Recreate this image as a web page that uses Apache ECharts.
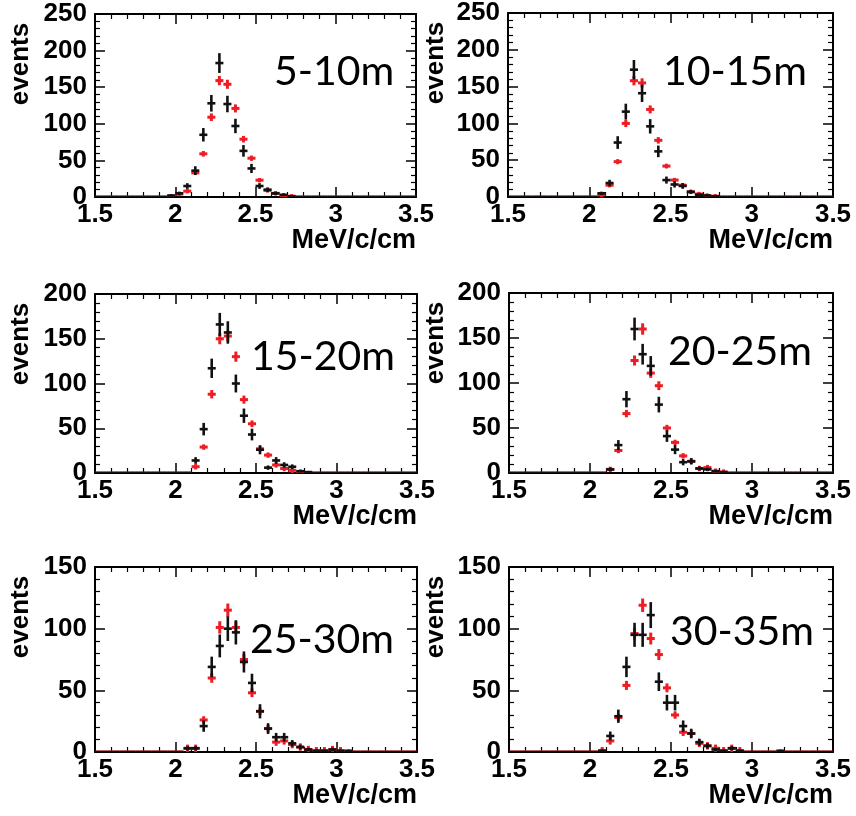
<!DOCTYPE html>
<html>
<head>
<meta charset="utf-8">
<script src="https://cdn.jsdelivr.net/npm/echarts@6/dist/echarts.min.js"></script>
<style>
  html, body { margin: 0; padding: 0; background: #fff; }
  #chart { width: 856px; height: 816px; }
</style>
</head>
<body>
<div id="chart"></div>
<script>
// Bin centres (40 bins of 0.05 from 1.5 to 3.5), MeV/c/cm
const binCenters = [1.525,1.575,1.625,1.675,1.725,1.775,1.825,1.875,1.925,1.975,
                    2.025,2.075,2.125,2.175,2.225,2.275,2.325,2.375,2.425,2.475,
                    2.525,2.575,2.625,2.675,2.725,2.775,2.825,2.875,2.925,2.975,
                    3.025,3.075,3.125,3.175,3.225,3.275,3.325,3.375,3.425,3.475];

const panelLabels = ['5-10m','10-15m','15-20m','20-25m','25-30m','30-35m'];
const yMaxes = [250, 250, 200, 200, 150, 150];
const xTicks = [1.5, 2, 2.5, 3, 3.5];

// black: data, red: simulation (events per bin)
const black_5_10  = [0,0,0,0,0,0,0,0,0,2, 5,15,36,85,128,183,127,97,63,39, 15,10,5,3,1,0,0,0,0,0, 0,0,0,0,0,0,0,0,0,0];
const red_5_10    = [0,0,0,0,0,0,0,0,0,1, 4,8,33,59,109,159,154,121,79,53, 23,9,5,2,1,0,0,0,0,0, 0,0,0,0,0,0,0,0,0,0];
const black_10_15 = [0,0,0,0,0,0,0,0,0,0, 0,5,19,74,116,173,141,96,62,23, 17,15,7,3,2,1,0,0,0,0, 0,0,0,0,0,0,0,0,0,0];
const red_10_15   = [0,0,0,0,0,0,0,0,0,0, 0,3,16,48,100,158,155,119,77,42, 23,16,7,4,2,1,0,0,0,0, 0,0,0,0,0,0,0,0,0,0];
const black_15_20 = [0,0,0,0,0,0,0,0,0,0, 0,0,14,49,117,166,157,100,64,43, 26,6,14,9,7,2,1,0,0,0, 0,0,0,0,0,0,0,0,0,0];
const red_15_20   = [0,0,0,0,0,0,0,0,0,0, 0,0,7,29,88,150,153,130,82,55, 27,20,9,5,3,1,0,0,0,0, 0,0,0,0,0,0,0,0,0,0];
const black_20_25 = [0,0,0,0,0,0,0,0,0,0, 0,0,4,31,82,160,132,119,76,41, 26,12,13,5,4,2,1,0,0,0, 0,0,0,0,0,0,0,0,0,0];
const red_20_25   = [0,0,0,0,0,0,0,0,0,0, 0,0,4,25,66,125,160,111,97,50, 34,19,13,5,6,2,1,0,0,0, 0,0,0,0,0,0,0,0,0,0];
const black_25_30 = [0,0,0,0,0,0,0,0,0,0, 0,3,3,21,69,86,100,97,73,56, 33,19,12,12,7,4,2,1,1,2, 1,1,0,0,0,0,0,0,0,0];
const red_25_30   = [0,0,0,0,0,0,0,0,0,0, 0,3,3,26,60,101,115,101,75,48, 33,19,8,9,6,4,2,1,1,2, 1,0,0,0,0,0,0,0,0,0];
const black_30_35 = [0,0,0,0,0,0,0,0,0,0, 0,1,13,29,69,95,95,111,57,40, 40,21,15,8,5,2,1,3,1,0, 0,0,0,1,0,0,0,0,0,0];
const red_30_35   = [0,0,0,0,0,0,0,0,0,0, 0,1,9,28,54,96,119,92,79,52, 30,16,15,7,5,3,1,3,1,0, 0,0,0,0,0,0,0,0,0,0];

const blackSets = [black_5_10, black_10_15, black_15_20, black_20_25, black_25_30, black_30_35];
const redSets   = [red_5_10, red_10_15, red_15_20, red_20_25, red_25_30, red_30_35];

// layout (frame boxes in px)
const frames = [
  {left: 95,  top: 14,  width: 321, height: 183},
  {left: 508, top: 13,  width: 325, height: 184},
  {left: 95,  top: 294, width: 322, height: 179},
  {left: 509, top: 293, width: 324, height: 180},
  {left: 95,  top: 567, width: 322, height: 185},
  {left: 509, top: 567, width: 324, height: 185}
];
const labelPos = [[274,72],[663,72],[251,357],[668,352],[250,640],[670,632]];

const BLACK = '#111111';
const RED = '#ee1c24';
const HALF = 0.025;
const FONT = '"Liberation Sans", Arial, sans-serif';

function makeRender(color, errScale, minErr, lw) {
  return function (params, api) {
    const x = api.value(0), y = api.value(1);
    let e = errScale * Math.sqrt(Math.max(y, 0));
    if (y > 0) e = Math.max(e, minErr);
    const pL = api.coord([x - HALF, y]);
    const pR = api.coord([x + HALF, y]);
    const children = [{
      type: 'line',
      shape: {x1: pL[0], y1: pL[1], x2: pR[0], y2: pR[1]},
      style: {stroke: color, lineWidth: lw}
    }];
    if (e > 0) {
      const pT = api.coord([x, y + e]);
      const pB = api.coord([x, Math.max(y - e, 0)]);
      children.push({
        type: 'line',
        shape: {x1: pT[0], y1: pT[1], x2: pB[0], y2: pB[1]},
        style: {stroke: color, lineWidth: lw}
      });
    }
    return {type: 'group', children: children};
  };
}

const grids = [], xAxes = [], yAxes = [], series = [], graphics = [];

frames.forEach(function (f, i) {
  grids.push({left: f.left, top: f.top, width: f.width, height: f.height, show: false});
  const tickStyle = {show: true, inside: true, length: 10, lineStyle: {color: '#000', width: 1.5}};
  const minorStyle = {show: true, splitNumber: 5, length: 5, lineStyle: {color: '#000', width: 1.2}};
  const axisLine = {show: true, onZero: false, lineStyle: {color: '#000', width: 2}};
  xAxes.push({
    type: 'value', gridIndex: i, position: 'bottom', min: 1.5, max: 3.5, interval: 0.5,
    axisLine: axisLine, axisTick: tickStyle, minorTick: minorStyle,
    splitLine: {show: false},
    axisLabel: {show: true, margin: 5, color: '#000', fontFamily: FONT, fontWeight: 'bold', fontSize: 26,
      showMinLabel: true, showMaxLabel: true,
      formatter: function (v) { return xTicks.indexOf(v) >= 0 ? String(v) : ''; }}
  });
  xAxes.push({
    type: 'value', gridIndex: i, position: 'top', min: 1.5, max: 3.5, interval: 0.5,
    axisLine: axisLine, axisTick: tickStyle, minorTick: minorStyle,
    splitLine: {show: false}, axisLabel: {show: false}
  });
  yAxes.push({
    type: 'value', gridIndex: i, position: 'left', min: 0, max: yMaxes[i], interval: 50,
    axisLine: axisLine, axisTick: tickStyle, minorTick: minorStyle,
    splitLine: {show: false},
    axisLabel: {show: true, margin: 8, color: '#000', fontFamily: FONT, fontWeight: 'bold', fontSize: 26}
  });
  yAxes.push({
    type: 'value', gridIndex: i, position: 'right', min: 0, max: yMaxes[i], interval: 50,
    axisLine: axisLine, axisTick: tickStyle, minorTick: minorStyle,
    splitLine: {show: false}, axisLabel: {show: false}
  });

  const redData = binCenters.map(function (x, k) { return [x, redSets[i][k]]; });
  const blackData = binCenters.map(function (x, k) { return [x, blackSets[i][k]]; });
  series.push({
    type: 'custom', xAxisIndex: 2 * i, yAxisIndex: 2 * i, data: redData,
    renderItem: makeRender(RED, 0.5, 3, 3), clip: true, silent: true, z: 3
  });
  series.push({
    type: 'custom', xAxisIndex: 2 * i, yAxisIndex: 2 * i, data: blackData,
    renderItem: makeRender(BLACK, 1.0, 0, 2.6), clip: true, silent: true, z: 4
  });

  const isLeft = (i % 2 === 0);
  graphics.push({
    type: 'text', x: isLeft ? 21 : 436, y: f.top + 50, rotation: Math.PI / 2,
    style: {text: 'events', fill: '#000', font: 'bold 26px ' + FONT, align: 'center', verticalAlign: 'middle'}
  });
  graphics.push({
    type: 'text', x: f.left + f.width, y: f.top + f.height + 44,
    style: {text: 'MeV/c/cm', fill: '#000', font: 'bold 27px ' + FONT, align: 'right', verticalAlign: 'middle'}
  });
  graphics.push({
    type: 'text', x: labelPos[i][0], y: labelPos[i][1], z: 10,
    style: {text: panelLabels[i], fill: '#000', font: '41px Lato, "Open Sans", sans-serif', align: 'left', verticalAlign: 'middle'}
  });
});

const chart = echarts.init(document.getElementById('chart'), null, {renderer: 'canvas'});
chart.setOption({
  animation: false,
  backgroundColor: '#fff',
  grid: grids,
  xAxis: xAxes,
  yAxis: yAxes,
  series: series,
  graphic: graphics
});
</script>
</body>
</html>
